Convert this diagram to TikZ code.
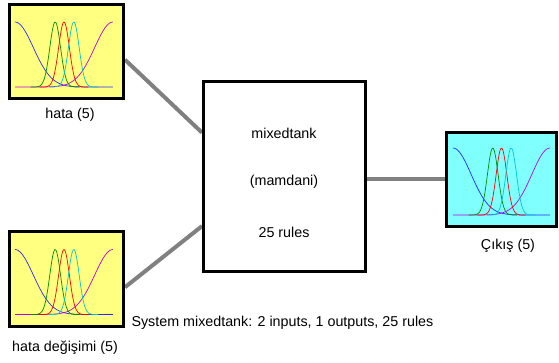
\documentclass[tikz,border=0pt]{standalone}
\usepackage{fontspec}
\setmainfont{Liberation Sans}
\usetikzlibrary{positioning, calc, backgrounds}
\definecolor{InColor}{RGB}{255,255,128}
\definecolor{OutColor}{RGB}{128,255,255}
\definecolor{LinkColor}{RGB}{128,128,128}
\definecolor{MfBlue}{RGB}{40,40,255}
\definecolor{MfGreen}{RGB}{0,140,0}
\definecolor{MfRed}{RGB}{255,0,0}
\definecolor{MfCyan}{RGB}{0,200,200}
\definecolor{MfMagenta}{RGB}{190,0,230}
\tikzstyle{varbox} = [rectangle, draw=black, line width=3pt, minimum width=114pt, minimum height=94pt, inner sep=0pt]
\tikzstyle{rulebox} = [rectangle, draw=black, line width=3pt, fill=white, minimum width=162pt, minimum height=190pt, inner sep=0pt]
\tikzstyle{link} = [line width=4pt, LinkColor]
\tikzstyle{mf} = [line width=0.7pt]
% five membership functions in a unit frame
\newcommand{\mfcurves}[3]{%
  \begin{scope}[shift={#1}, x=#2, y=#3]
    \draw[mf, MfBlue] plot[domain=0:1, samples=60] (\x, {exp(-(\x)^2/0.07)});
    \draw[mf, MfMagenta] plot[domain=0:1, samples=60] (\x, {exp(-(\x-1)^2/0.07)});
    \draw[mf, MfGreen] plot[domain=0.16:0.66, samples=50] (\x, {exp(-(\x-0.41)^2/0.006)});
    \draw[mf, MfRed] plot[domain=0.25:0.75, samples=50] (\x, {exp(-(\x-0.5)^2/0.006)});
    \draw[mf, MfCyan] plot[domain=0.35:0.85, samples=50] (\x, {exp(-(\x-0.6)^2/0.006)});
  \end{scope}}

\begin{document}
\begin{tikzpicture}[x=1pt, y=-1pt, font=\fontsize{14.3}{17}\selectfont]
  \useasboundingbox (0,0) rectangle (559,363);

  % Input and output variables
  \node[varbox, fill=InColor] (in1) at (66.5,51.5) {};
  \node[varbox, fill=InColor] (in2) at (66.5,279) {};
  \node[varbox, fill=OutColor, minimum width=110pt] (out1) at (501.5,179.5) {};
  \mfcurves{($(in1.south west)+(7,-13)$)}{98pt}{65pt}
  \mfcurves{($(in2.south west)+(7,-13)$)}{98pt}{65pt}
  \mfcurves{($(out1.south west)+(8,-13)$)}{97pt}{67pt}

  % Rule block
  \node[rulebox] (rule) at (284.5,176.5) {};
  \node (name) at (284,133) {mixedtank};
  \node (kind) at (284,182) {(mamdani)};
  \node (nrules) at (284,232) {25 rules};

  % Links
  \begin{scope}[on background layer]
    \draw[link] (in1.-8) -- (rule.152);
    \draw[link] (in2.-8) -- (rule.211);
    \draw[link] (out1.west) -- (out1.west -| rule.east);
  \end{scope}

  % Labels
  \node (lab1) at (70,115) {hata (5)};
  \node (lab2) at (65,348) {hata değişimi (5)};
  \node (lab3) at (508,246) {Çıkış (5)};
  \node[anchor=west] (info) at (128,323) {System mixedtank: 2 inputs, 1 outputs, 25 rules};
\end{tikzpicture}
\end{document}
